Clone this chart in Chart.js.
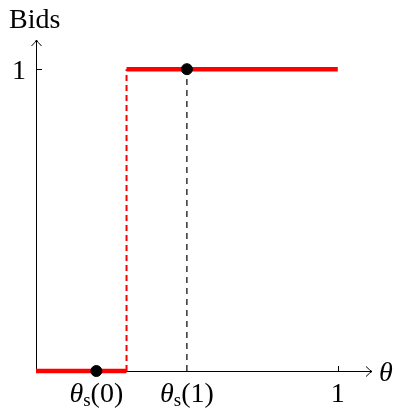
<!DOCTYPE html>
<html lang="en">
<head>
    <meta charset="UTF-8">
    <title>Bids</title>
    <script src="https://cdn.jsdelivr.net/npm/chart.js"></script>
    <style>
        body { margin: 0; background: #fff; }
        .chart-container { width: 395px; height: 408px; position: relative; }
    </style>
</head>
<body>
    <div class="chart-container">
        <canvas id="graficoBids"></canvas>
    </div>

    <script>
        // bid function: 0 below the jump, 1 above it
        const lowX = [0, 0.3];
        const lowY = [0, 0];
        const jumpX = [0.3, 0.3];
        const jumpY = [0, 1];
        const highX = [0.3, 1];
        const highY = [1, 1];
        // thresholds theta_s(0) and theta_s(1)
        const dotX = [0.2, 0.5];
        const dotY = [0, 1];
        const guideX = [0.5, 0.5];
        const guideY = [0, 1];

        // axis ticks: value, main text, subscript, trailing text
        const xTicks = [
            { v: 0.2, main: "θ", sub: "s", tail: "(0)" },
            { v: 0.5, main: "θ", sub: "s", tail: "(1)" },
            { v: 1, main: "", sub: "", tail: "1" }
        ];
        const xMarks = [1];
        const yTicks = [1];

        const pts = (xs, ys) => xs.map((x, i) => ({ x: x, y: ys[i] }));
        const serif = "'Liberation Serif', 'DejaVu Serif', serif";
        const big = "28px " + serif, small = "19px " + serif, ital = "italic 28px " + serif;

        const ejes = {
            id: "ejes",
            beforeDatasetsDraw(chart) {
                const ctx = chart.ctx;
                const sx = chart.scales.x, sy = chart.scales.y;
                const x0 = sx.getPixelForValue(0), y0 = sy.getPixelForValue(0);
                const xEnd = sx.right - 2, yEnd = sy.top + 1;
                ctx.save();
                ctx.strokeStyle = "#000";
                ctx.lineWidth = 1;
                ctx.beginPath();
                ctx.moveTo(x0, y0 + 0.5); ctx.lineTo(xEnd, y0 + 0.5);
                ctx.moveTo(x0 + 0.5, y0); ctx.lineTo(x0 + 0.5, yEnd);
                // arrow heads
                ctx.moveTo(xEnd - 6, y0 - 4.5); ctx.quadraticCurveTo(xEnd - 2, y0 - 0.5, xEnd, y0 + 0.5);
                ctx.quadraticCurveTo(xEnd - 2, y0 + 1.5, xEnd - 6, y0 + 5.5);
                ctx.moveTo(x0 - 4.5, yEnd + 6); ctx.quadraticCurveTo(x0 - 0.5, yEnd + 2, x0 + 0.5, yEnd);
                ctx.quadraticCurveTo(x0 + 1.5, yEnd + 2, x0 + 5.5, yEnd + 6);
                xMarks.forEach(v => {
                    const px = Math.round(sx.getPixelForValue(v)) + 0.5;
                    ctx.moveTo(px, y0); ctx.lineTo(px, y0 - 5);
                });
                yTicks.forEach(v => {
                    const py = Math.round(sy.getPixelForValue(v)) + 0.5;
                    ctx.moveTo(x0, py); ctx.lineTo(x0 + 6, py);
                });
                ctx.stroke();

                ctx.fillStyle = "#000";
                ctx.textBaseline = "alphabetic";
                // y tick labels
                ctx.font = big;
                ctx.textAlign = "right";
                yTicks.forEach(v => ctx.fillText(String(v), x0 - 10, sy.getPixelForValue(v) + 10));
                // x tick labels
                xTicks.forEach(t => {
                    ctx.font = ital;
                    const wm = ctx.measureText(t.main).width;
                    ctx.font = small;
                    const ws = ctx.measureText(t.sub).width;
                    ctx.font = big;
                    const wt = ctx.measureText(t.tail).width;
                    let px = sx.getPixelForValue(t.v) - (wm + ws + wt) / 2;
                    const base = y0 + 31;
                    ctx.textAlign = "left";
                    ctx.font = ital;
                    ctx.fillText(t.main, px, base); px += wm;
                    ctx.font = small;
                    ctx.fillText(t.sub, px, base + 4); px += ws;
                    ctx.font = big;
                    ctx.fillText(t.tail, px, base);
                });
                // axis titles
                ctx.font = big;
                ctx.textAlign = "left";
                ctx.fillText("Bids", 9, 28);
                ctx.font = ital;
                ctx.fillText("θ", xEnd + 7, y0 + 10);
                ctx.restore();
            }
        };

        new Chart(document.getElementById("graficoBids"), {
            type: "scatter",
            data: {
                datasets: [
                    {
                        label: "thresholds",
                        data: pts(dotX, dotY),
                        backgroundColor: "#000",
                        borderColor: "#000",
                        pointRadius: 5.5,
                        showLine: false,
                        clip: false,
                        order: 0
                    },
                    {
                        label: "low",
                        data: pts(lowX, lowY),
                        borderColor: "#ff0000",
                        borderWidth: 4.5,
                        borderCapStyle: "butt",
                        pointRadius: 0,
                        showLine: true,
                        clip: false,
                        order: 1
                    },
                    {
                        label: "high",
                        data: pts(highX, highY),
                        borderColor: "#ff0000",
                        borderWidth: 4.5,
                        borderCapStyle: "butt",
                        pointRadius: 0,
                        showLine: true,
                        clip: false,
                        order: 1
                    },
                    {
                        label: "jump",
                        data: pts(jumpX, jumpY),
                        borderColor: "#ff0000",
                        borderWidth: 2,
                        borderDash: [6, 4],
                        pointRadius: 0,
                        showLine: true,
                        clip: false,
                        order: 2
                    },
                    {
                        label: "guide",
                        data: pts(guideX, guideY),
                        borderColor: "#000",
                        borderWidth: 1.2,
                        borderDash: [6, 5],
                        pointRadius: 0,
                        showLine: true,
                        clip: false,
                        order: 3
                    }
                ]
            },
            options: {
                responsive: true,
                maintainAspectRatio: false,
                animation: false,
                events: [],
                layout: { padding: { left: 36, right: 21, top: 39, bottom: 37 } },
                plugins: {
                    legend: { display: false },
                    tooltip: { enabled: false }
                },
                scales: {
                    x: { type: "linear", min: 0, max: 1.12, display: false },
                    y: { type: "linear", min: 0, max: 1.1, display: false }
                }
            },
            plugins: [ejes]
        });
    </script>
</body>
</html>
